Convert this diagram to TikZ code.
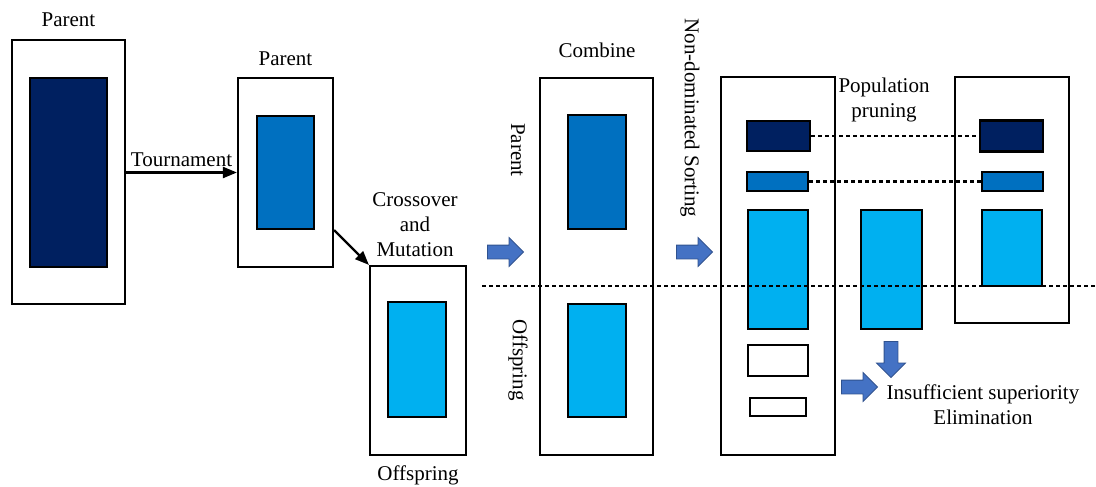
\documentclass[tikz,border=0pt]{standalone}
\usepackage{fontspec}
\setmainfont{Liberation Serif}
\usetikzlibrary{arrows.meta,shapes.arrows}
\definecolor{navy}{HTML}{002060}
\definecolor{midblue}{HTML}{0070C0}
\definecolor{lightblue}{HTML}{00B0F0}
\definecolor{arrowblue}{HTML}{4472C4}
\definecolor{arrowedge}{HTML}{2F528F}

\begin{document}
\begin{tikzpicture}[x=1pt,y=-1pt,
    font=\fontsize{21}{25}\selectfont,
    box/.style={draw,line width=2.2pt,fill=white,inner sep=0pt},
    block/.style={draw,line width=2.2pt,inner sep=0pt},
    bigarrow/.style={single arrow,draw=arrowedge,fill=arrowblue,line width=0.8pt,
        inner xsep=0pt,inner ysep=6.5pt,minimum height=36pt,minimum width=28pt,
        single arrow head extend=7.5pt},
    cut/.style={line width=2.2pt,dash pattern=on 4pt off 3pt},
    link/.style={line width=2.2pt,-{Triangle[length=14pt,width=11pt]}}
]
    \useasboundingbox (0,0) rectangle (1096,487);

    % parent population
    \node[box,minimum width=113pt,minimum height=264pt] (par1) at (68.5,172) {};
    \node[block,fill=navy,minimum width=77pt,minimum height=189pt] (par1in) at (68.5,172.5) {};
    \node (par1lbl) at (68.5,20) {Parent};

    % selected parents
    \node[box,minimum width=95pt,minimum height=189pt] (par2) at (285.5,172.5) {};
    \node[block,fill=midblue,minimum width=57pt,minimum height=113pt] (par2in) at (285.5,172.5) {};
    \node (par2lbl) at (285.5,59) {Parent};

    % offspring
    \node[box,minimum width=96pt,minimum height=189pt] (off) at (418,360.5) {};
    \node[block,fill=lightblue,minimum width=58pt,minimum height=115pt] (offin) at (417,359.5) {};
    \node (offlbl) at (418,475) {Offspring};
    \node[align=center] (cross) at (415,225) {Crossover\\and\\Mutation};

    \draw[link] (par1.east |- par2.west) -- node[above=1pt] {Tournament} (par2.west);
    \draw[link] (par2.east |- par2in.south) -- (off.north west);

    % combined population
    \node[box,minimum width=113pt,minimum height=377pt] (comb) at (596.5,266.5) {};
    \node[block,fill=midblue,minimum width=58pt,minimum height=114pt] (combtop) at (597,172) {};
    \node[block,fill=lightblue,minimum width=58pt,minimum height=113pt] (combbot) at (597,360.5) {};
    \node (comblbl) at (597,50) {Combine};
    \node[rotate=-90] (combpar) at (518,150) {Parent};
    \node[rotate=-90] (comboff) at (518,360) {Offspring};
    \node[bigarrow] (arr1) at (502,252) {};

    % sorted fronts
    \node[rotate=-90] (sortlbl) at (690,118) {Non-dominated Sorting};
    \node[bigarrow] (arr2) at (691,252) {};
    \node[box,minimum width=114pt,minimum height=378pt] (sort) at (778,266) {};
    \node[block,fill=navy,minimum width=63pt,minimum height=30pt] (s1) at (778.5,136) {};
    \node[block,fill=midblue,minimum width=61pt,minimum height=19pt] (s2) at (777.5,181.5) {};
    \node[block,fill=lightblue,minimum width=60pt,minimum height=119pt] (s3) at (778,269.5) {};
    \node[block,fill=white,minimum width=60pt,minimum height=31pt] (s4) at (778,360.5) {};
    \node[block,fill=white,minimum width=56pt,minimum height=18pt] (s5) at (778,407) {};
    \node[block,fill=lightblue,minimum width=61pt,minimum height=119pt] (mid) at (891.5,269.5) {};

    % next population
    \node[box,minimum width=114pt,minimum height=246pt] (nxt) at (1012,200) {};
    \node[block,fill=navy,minimum width=63pt,minimum height=31pt] (n1) at (1011.5,136) {};
    \node[block,fill=midblue,minimum width=61pt,minimum height=19pt] (n2) at (1012.5,181.5) {};
    \node[block,fill=lightblue,minimum width=60pt,minimum height=76pt] (n3) at (1012,248) {};
    \node[align=center] (prune) at (884,100) {Population\\pruning};

    \draw[cut] (s1.east) -- (n1.west);
    \draw[cut] (s2.east) -- (n2.west);
    \coordinate (dl) at (482,286);
    \coordinate (dr) at (1096,286);
    \draw[cut] (dl) -- (dr);

    % eliminated part
    \node[bigarrow,rotate=-90] (arr3) at (891,356) {};
    \node[bigarrow] (arr4) at (856,387) {};
    \node[align=center] (elim) at (983,405) {Insufficient superiority\\Elimination};
\end{tikzpicture}
\end{document}
